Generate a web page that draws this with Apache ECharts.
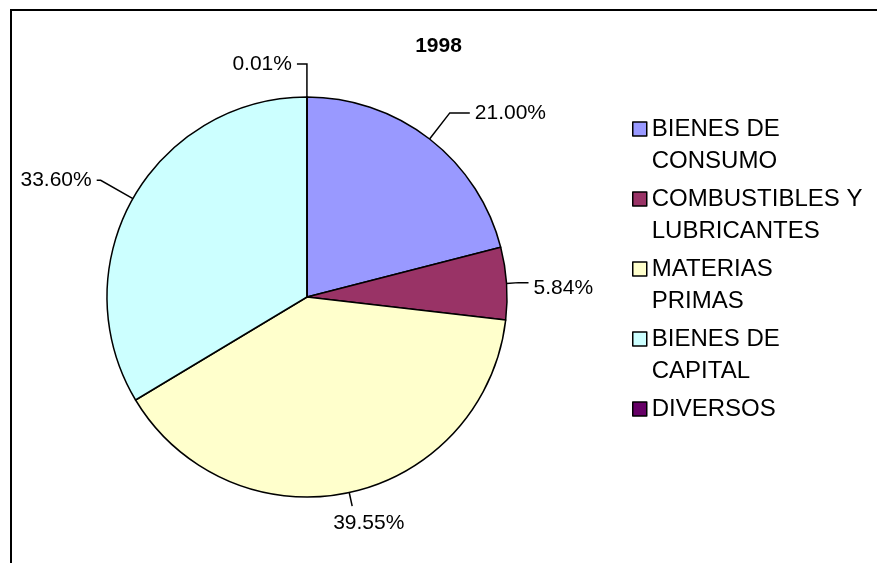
<!DOCTYPE html>
<html>
<head>
<meta charset="utf-8">
<script src="https://cdn.jsdelivr.net/npm/echarts@6/dist/echarts.min.js"></script>
<style>
html,body{margin:0;padding:0;background:#fff;}
#chart{width:877px;height:563px;}
</style>
</head>
<body>
<div id="chart"></div>
<script>
var title = '1998';
var categories = ['BIENES DE\nCONSUMO', 'COMBUSTIBLES Y\nLUBRICANTES', 'MATERIAS\nPRIMAS', 'BIENES DE\nCAPITAL', 'DIVERSOS'];
var values = [21.00, 5.84, 39.55, 33.60, 0.01];
var colors = ['#9999FF', '#993366', '#FFFFCC', '#CCFFFF', '#660066'];

// leader line styling per slice (length, length2) and small label nudges
var leaderLengths = [[33, 20], [12, 10], [14, 0], [37, 4], [33, 10]];
var labelNudges = [[0, 0], [0, 6], [-24, 17], [0, 0], [0, 0]];

var chart = echarts.init(document.getElementById('chart'));
var font = 'Liberation Sans, Arial, sans-serif';

// square icon in the top part of a taller box so it lines up with the first text line
var legendIcon = 'path://M0,0L14,0L14,14L0,14Z M0,46';

chart.setOption({
  animation: false,
  backgroundColor: '#fff',
  color: colors,
  title: {
    text: title,
    left: 'center',
    top: 31,
    textStyle: { fontFamily: font, fontSize: 21, fontWeight: 'bold', color: '#000' }
  },
  legend: {
    orient: 'vertical',
    left: 627,
    top: 108,
    icon: legendIcon,
    itemWidth: 14,
    itemHeight: 46,
    itemGap: 6,
    data: categories,
    formatter: function (name) { return name.indexOf('\n') < 0 ? name + '\n ' : name; },
    itemStyle: { borderColor: '#000', borderWidth: 1.5 },
    textStyle: { fontFamily: font, fontSize: 24, lineHeight: 32, color: '#000' }
  },
  graphic: [{
    type: 'rect',
    shape: { x: 11, y: 10, width: 900, height: 600 },
    style: { fill: 'none', stroke: '#000', lineWidth: 2 },
    silent: true
  }],
  series: [{
    type: 'pie',
    center: [307, 297],
    radius: 200,
    startAngle: 90,
    clockwise: true,
    avoidLabelOverlap: false,
    data: categories.map(function (c, i) {
      return {
        name: c,
        value: values[i],
        labelLine: { length: leaderLengths[i][0], length2: leaderLengths[i][1] }
      };
    }),
    itemStyle: { borderColor: '#000', borderWidth: 1.5 },
    label: {
      show: true,
      position: 'outside',
      fontFamily: font,
      fontSize: 21,
      color: '#000',
      formatter: function (p) { return p.value.toFixed(2) + '%'; }
    },
    labelLine: {
      show: true,
      lineStyle: { color: '#000', width: 1.5 }
    },
    labelLayout: function (p) {
      var n = labelNudges[p.dataIndex];
      return { dx: n[0], dy: n[1] };
    },
    emphasis: { disabled: true }
  }]
});
</script>
</body>
</html>
